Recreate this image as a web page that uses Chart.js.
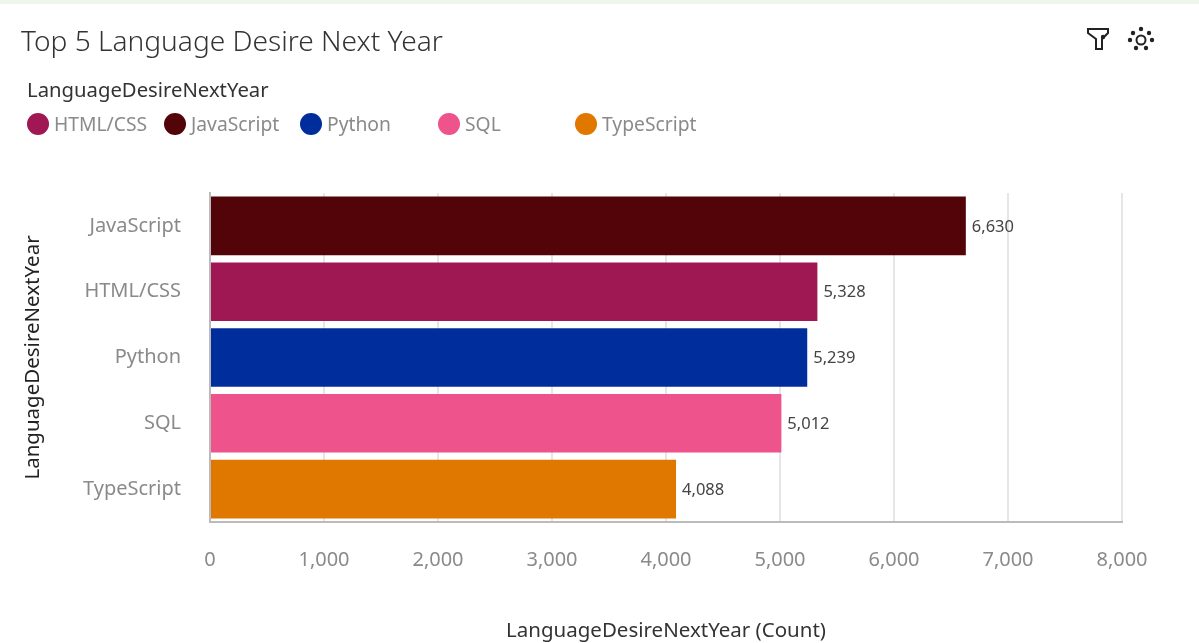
<!DOCTYPE html>
<html>
<head>
<meta charset="utf-8">
<title>Top 5 Language Desire Next Year</title>
<script src="https://cdn.jsdelivr.net/npm/chart.js@4"></script>
<style>
    html, body { margin: 0; padding: 0; background: #fff; overflow: hidden; }
    body { width: 1199px; height: 643px; position: relative; font-family: "Noto Sans", sans-serif; }
    #strip { position: absolute; left: 0; top: 0; width: 1199px; height: 4px; background: #eef5ea; }
    #title { position: absolute; left: 21px; top: 21px; font-size: 28.1px; font-weight: 300; line-height: 38px; color: #333; white-space: nowrap; }
    #legendTitle { position: absolute; left: 27px; top: 75px; font-size: 20.3px; color: #333; white-space: nowrap; }
    .legendItem { position: absolute; top: 113px; height: 22px; white-space: nowrap; font-size: 19.3px; color: #8a8a8a; line-height: 22px; }
    .legendItem i { position: absolute; left: 0; top: 0; width: 22px; height: 22px; border-radius: 50%; }
    .legendItem span { position: absolute; left: 27px; top: 0; }
    #icons { position: absolute; left: 1085px; top: 25px; }
    #chartBox { position: absolute; left: 0; top: 0; width: 1199px; height: 643px; }
</style>
</head>
<body>
<div id="strip"></div>
<div id="chartBox"><canvas id="topChart" width="1199" height="643"></canvas></div>
<div id="title">Top 5 Language Desire Next Year</div>
<div id="legendTitle">LanguageDesireNextYear</div>
<div id="legend"></div>
<svg id="icons" width="75" height="30" viewBox="0 0 75 30" fill="none" stroke="#222" stroke-width="2">
    <path d="M3 4 H23 V8 L17 14 V24 H11 V14 L3 8 Z"/>
    <circle cx="18" cy="12" r="2.2" fill="#222" stroke="none"/>
    <circle cx="56" cy="15" r="4.5"/>
    <g fill="#222" stroke="none">
        <circle cx="56" cy="4" r="2.2"/><circle cx="48" cy="8" r="2.2"/><circle cx="64" cy="8" r="2.2"/>
        <circle cx="45" cy="15" r="2.2"/><circle cx="67" cy="15" r="2.2"/>
        <circle cx="51" cy="23" r="2.2"/><circle cx="61" cy="23" r="2.2"/>
    </g>
</svg>
<script>
const categories = ["JavaScript", "HTML/CSS", "Python", "SQL", "TypeScript"];
const counts = [6630, 5328, 5239, 5012, 4088];
const barColors = ["#520408", "#9f1853", "#002d9c", "#ee538b", "#e07800"];
const legendLabels = ["HTML/CSS", "JavaScript", "Python", "SQL", "TypeScript"];
const legendColors = ["#9f1853", "#520408", "#002d9c", "#ee538b", "#e07800"];
const legendLefts = [27, 164, 300, 438, 575];
const fontName = '"Noto Sans", sans-serif';

legendLabels.forEach(function (label, i) {
    const item = document.createElement("div");
    item.className = "legendItem";
    item.style.left = legendLefts[i] + "px";
    item.innerHTML = '<i style="background:' + legendColors[i] + '"></i><span>' + label + "</span>";
    document.getElementById("legend").appendChild(item);
});

// value text just past the end of each bar
const barValues = {
    id: "barValues",
    afterDatasetsDraw(chart) {
        const ctx = chart.ctx;
        ctx.save();
        ctx.font = "16.5px " + fontName;
        ctx.fillStyle = "#444";
        ctx.textBaseline = "middle";
        chart.getDatasetMeta(0).data.forEach(function (bar, i) {
            ctx.fillText(counts[i].toLocaleString("en-US"), bar.x + 6, bar.y + 1);
        });
        ctx.restore();
    },
};

new Chart(document.getElementById("topChart"), {
    type: "bar",
    data: {
        labels: categories,
        datasets: [
            {
                data: counts,
                backgroundColor: barColors,
                borderColor: barColors,
                borderWidth: 0,
                barPercentage: 0.89,
                categoryPercentage: 1,
            },
        ],
    },
    options: {
        indexAxis: "y",
        responsive: false,
        animation: false,
        layout: { padding: { top: 193, right: 77, left: 0, bottom: 0 } },
        plugins: { legend: { display: false }, tooltip: { enabled: false } },
        scales: {
            x: {
                min: 0,
                max: 8000,
                afterFit(scale) {
                    scale.height = 121;
                },
                border: { color: "#bbb", width: 2 },
                grid: { color: "#e6e6e6", lineWidth: 2, drawTicks: false },
                ticks: {
                    stepSize: 1000,
                    padding: 26,
                    maxRotation: 0,
                    color: "#8a8a8a",
                    font: { family: fontName, size: 20 },
                    callback: (value) => value.toLocaleString("en-US"),
                },
                title: {
                    display: true,
                    text: "LanguageDesireNextYear (Count)",
                    color: "#333",
                    font: { family: fontName, size: 20.5 },
                    padding: { bottom: 0, top: 0 },
                },
            },
            y: {
                afterFit(scale) {
                    scale.width = 210;
                },
                border: { color: "#bbb", width: 2 },
                grid: { display: false, drawTicks: false },
                ticks: {
                    padding: 29,
                    color: "#8a8a8a",
                    font: { family: fontName, size: 20 },
                },
                title: {
                    display: true,
                    text: "LanguageDesireNextYear",
                    color: "#222",
                    font: { family: fontName, size: 20.5 },
                    padding: { top: 21, bottom: 0 },
                },
            },
        },
    },
    plugins: [barValues],
});
</script>
</body>
</html>
